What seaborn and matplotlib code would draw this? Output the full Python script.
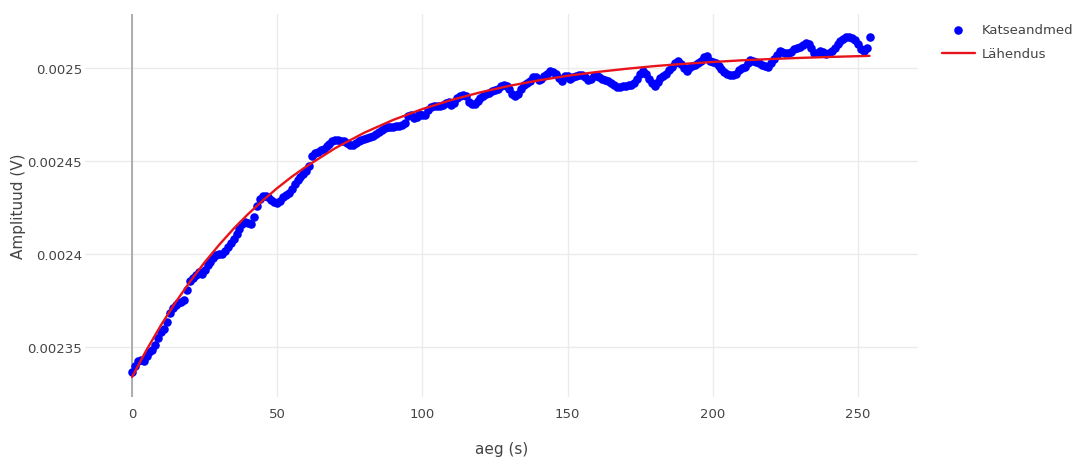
import numpy as np
import pandas as pd
import matplotlib
matplotlib.use("Agg")
import matplotlib.pyplot as plt
from matplotlib.ticker import FixedLocator, FuncFormatter
import seaborn as sns

# ---- data ----
# measured amplitude, one sample per second, t = 0 ... 254 s, in microvolts
time_s = list(range(0, 255))
amp_uV = [
    2336.6, 2339.8, 2342.5, 2343.0, 2342.5, 2345.2, 2347.3, 2348.4, 2351.1, 2354.8,
    2358.1, 2359.7, 2363.4, 2368.3, 2371.0, 2372.6, 2373.7, 2374.2, 2375.3, 2380.6,
    2385.5, 2387.1, 2388.7, 2390.3, 2389.3, 2391.4, 2394.1, 2395.7, 2397.9, 2399.5,
    2400.0, 2400.0, 2401.6, 2403.8, 2405.9, 2408.1, 2410.8, 2413.4, 2416.1, 2417.2,
    2416.7, 2416.1, 2419.9, 2425.8, 2429.6, 2431.2, 2431.2, 2430.6, 2429.0, 2428.0,
    2427.4, 2428.5, 2430.6, 2431.7, 2432.8, 2435.0, 2437.6, 2439.8, 2441.4, 2443.0,
    2444.6, 2447.3, 2452.7, 2454.3, 2454.8, 2455.9, 2456.5, 2458.1, 2459.1, 2460.8,
    2461.3, 2461.3, 2460.8, 2460.8, 2459.7, 2458.6, 2458.6, 2459.7, 2460.8, 2461.3,
    2461.8, 2462.4, 2462.9, 2463.4, 2464.5, 2465.6, 2466.7, 2467.7, 2468.3, 2468.3,
    2468.3, 2468.8, 2468.8, 2469.4, 2470.4, 2474.2, 2474.7, 2473.1, 2473.7, 2475.3,
    2474.7, 2474.7, 2477.4, 2479.0, 2479.6, 2479.6, 2479.6, 2480.1, 2481.2, 2481.7,
    2480.1, 2481.2, 2483.9, 2484.9, 2485.5, 2484.9, 2481.7, 2480.6, 2480.6, 2482.3,
    2483.9, 2484.9, 2486.0, 2486.6, 2487.6, 2488.2, 2488.7, 2490.3, 2490.9, 2490.3,
    2488.7, 2486.0, 2484.9, 2486.0, 2488.7, 2490.9, 2491.9, 2493.0, 2495.2, 2495.2,
    2493.5, 2494.1, 2495.7, 2496.8, 2498.4, 2497.8, 2496.8, 2494.6, 2493.0, 2495.7,
    2495.7, 2494.1, 2495.2, 2495.7, 2496.2, 2496.2, 2495.2, 2493.5, 2494.1, 2495.7,
    2495.7, 2495.2, 2494.1, 2493.5, 2493.0, 2491.9, 2490.9, 2489.8, 2489.8, 2490.3,
    2490.3, 2490.9, 2490.9, 2491.9, 2494.1, 2496.8, 2498.4, 2496.8, 2494.1, 2491.9,
    2490.3, 2492.5, 2494.6, 2495.7, 2496.8, 2498.9, 2500.5, 2502.7, 2503.8, 2502.2,
    2500.0, 2498.4, 2500.0, 2501.1, 2501.6, 2502.7, 2503.8, 2505.9, 2506.5, 2503.8,
    2503.2, 2502.7, 2501.1, 2499.5, 2497.8, 2496.8, 2496.2, 2496.2, 2496.8, 2498.9,
    2500.0, 2500.5, 2502.7, 2504.3, 2503.8, 2503.2, 2502.7, 2501.6, 2501.1, 2500.5,
    2502.7, 2504.8, 2507.0, 2509.1, 2508.6, 2508.1, 2508.1, 2508.6, 2510.2, 2510.8,
    2511.3, 2512.4, 2513.4, 2512.9, 2510.8, 2508.1, 2508.1, 2509.1, 2508.6, 2507.5,
    2508.1, 2509.1, 2510.8, 2512.9, 2514.5, 2515.6, 2516.7, 2516.7, 2516.1, 2515.1,
    2512.9, 2510.2, 2509.1, 2510.8, 2516.7,
]

# fitted curve ("Lähendus"), microvolts
fit_time_s = [0, 5, 10, 15, 20, 25, 30, 35, 40, 45, 50, 55, 60, 70, 80, 90, 100,
              110, 120, 130, 140, 150, 160, 170, 180, 190, 200, 210, 220, 230, 240, 254]
fit_uV = [2333.9, 2348.4, 2361.8, 2374.0, 2385.2, 2395.5, 2404.9, 2413.6, 2421.5,
          2428.7, 2435.4, 2441.5, 2447.0, 2456.9, 2465.2, 2472.1, 2477.9, 2482.8,
          2486.9, 2490.4, 2493.3, 2495.8, 2497.8, 2499.5, 2501.0, 2502.2, 2503.2,
          2504.1, 2504.8, 2505.4, 2505.9, 2506.5]

x_ticks = [0, 50, 100, 150, 200, 250]
y_ticks = [0.00235, 0.0024, 0.00245, 0.0025]
label_data = "Katseandmed"
label_fit = "Lähendus"
x_title = "aeg (s)"
y_title = "Amplituud (V)"

df = pd.DataFrame({"t": time_s, "A": np.array(amp_uV) * 1e-6})
df_fit = pd.DataFrame({"t": fit_time_s, "A": np.array(fit_uV) * 1e-6})

# ---- style ----
sns.set_theme(style="white")
plt.rcParams["font.family"] = ["DejaVu Sans"]

fig = plt.figure(figsize=(10.73, 4.60), dpi=100)
ax = fig.add_axes([85 / 1073, 1 - 398 / 460, (918 - 85) / 1073, (398 - 15) / 460])

ax.grid(True, color="#ebebeb", linewidth=1.0)
ax.set_axisbelow(True)
for s in ax.spines.values():
    s.set_visible(False)
ax.axvline(0, color="#a8a8a8", linewidth=1.3, zorder=1)

sns.scatterplot(data=df, x="t", y="A", ax=ax, color="#0000ff", s=38,
                linewidth=0, label=label_data, zorder=3)
sns.lineplot(data=df_fit, x="t", y="A", ax=ax, color="#e8141c", linewidth=1.7,
             label=label_fit, zorder=4)

ax.set_xlim(-16.2, 270.7)
ax.set_ylim(0.0023231, 0.002529)
ax.xaxis.set_major_locator(FixedLocator(x_ticks))
ax.yaxis.set_major_locator(FixedLocator(y_ticks))
ax.yaxis.set_major_formatter(FuncFormatter(lambda v, p: f"{v:g}"))
ax.tick_params(axis="both", length=0, labelsize=9.5, labelcolor="#444444")
ax.tick_params(axis="x", pad=7)
ax.tick_params(axis="y", pad=2)

ax.set_xlabel(x_title, fontsize=11, color="#444444", labelpad=15)
ax.set_ylabel(y_title, fontsize=11, color="#444444", labelpad=1)

ax.get_legend().remove()
h, l = ax.get_legend_handles_labels()
leg = fig.legend(h, l, loc="upper left", bbox_to_anchor=(942 / 1073, 1 - 24 / 460),
                 frameon=False, fontsize=9.5, handlelength=2.5, handletextpad=0.55,
                 labelspacing=0.85, borderpad=0, borderaxespad=0)
for t in leg.get_texts():
    t.set_color("#444444")

fig.savefig("out.png", dpi=100, facecolor="white")
